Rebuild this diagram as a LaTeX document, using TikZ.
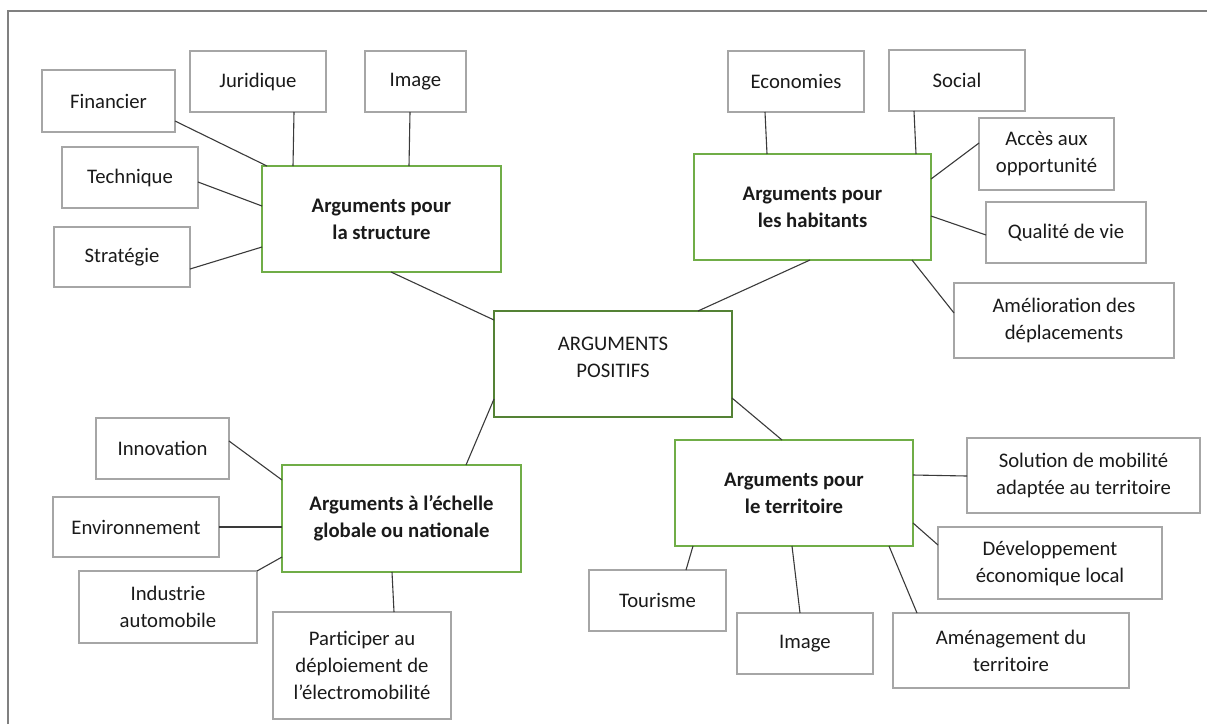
\documentclass[tikz,border=0pt]{standalone}
\usepackage{fontspec}
\setmainfont{Carlito}
\definecolor{boxgray}{HTML}{A6A6A6}
\definecolor{boxgreen}{HTML}{70AD47}
\definecolor{darkgreen}{HTML}{548235}
\definecolor{linegray}{HTML}{3A3A3A}
\definecolor{framegray}{HTML}{808080}
\definecolor{txt}{HTML}{1A1A1A}
\begin{document}
\begin{tikzpicture}[x=1pt,y=-1pt,
  every node/.style={font=\fontsize{20.7}{27}\selectfont, align=center, inner sep=0pt, outer sep=0pt, text=txt, rectangle},
  sub/.style={draw=boxgray, line width=2pt},
  grp/.style={draw=boxgreen, line width=2pt, font=\fontsize{20.7}{27}\selectfont\bfseries},
  hub/.style={draw=darkgreen, line width=2.6pt},
  link/.style={draw=linegray, line width=1.1pt},
  frame/.style={draw=framegray, line width=2pt}]
\useasboundingbox (0,0) rectangle (1207,724);
\draw[frame] (8,724) -- (8,11) -- (1207,11);

% central
\node[hub, minimum width=238pt, minimum height=106pt] (central) at (613,364) {ARGUMENTS\\POSITIFS\\[-13pt]\mbox{}};

% structure group
\node[grp, minimum width=239pt, minimum height=106pt] (struct) at (381.5,219) {Arguments pour\\la structure};
\node[sub, minimum width=133pt, minimum height=62pt] (fin) at (108.5,101) {Financier};
\node[sub, minimum width=136pt, minimum height=61pt] (jur) at (258,81.5) {Juridique};
\node[sub, minimum width=101pt, minimum height=61pt] (img1) at (415.5,81.5) {Image};
\node[sub, minimum width=136pt, minimum height=61pt] (tech) at (130,177.5) {Technique};
\node[sub, minimum width=136pt, minimum height=60pt] (strat) at (122,257) {Stratégie};

% habitants group
\node[grp, minimum width=237pt, minimum height=106pt] (hab) at (812.5,207) {Arguments pour\\les habitants};
\node[sub, minimum width=136pt, minimum height=61pt] (eco) at (796,81.5) {Economies};
\node[sub, minimum width=136pt, minimum height=61pt] (soc) at (957,80.5) {Social};
\node[sub, minimum width=135pt, minimum height=72pt] (acc) at (1046.5,154) {Accès aux\\opportunité};
\node[sub, minimum width=160pt, minimum height=61pt] (qual) at (1066,232.5) {Qualité de vie};
\node[sub, minimum width=220pt, minimum height=75pt] (amel) at (1064,320.5) {Amélioration des\\déplacements};

% global group
\node[grp, minimum width=239pt, minimum height=107pt] (glob) at (401.5,518.5) {Arguments à l’échelle\\globale ou nationale};
\node[sub, minimum width=133pt, minimum height=61pt] (innov) at (162.5,448.5) {Innovation};
\node[sub, minimum width=166pt, minimum height=60pt] (env) at (136,527) {Environnement};
\node[sub, minimum width=178pt, minimum height=72pt] (indus) at (168,607) {Industrie\\automobile};
\node[sub, minimum width=178pt, minimum height=107pt] (part) at (362,665.5) {Participer au\\déploiement de\\l’électromobilité};

% territoire group
\node[grp, minimum width=238pt, minimum height=106pt] (terr) at (794,493) {Arguments pour\\le territoire};
\node[sub, minimum width=233pt, minimum height=75pt] (sol) at (1083.5,475.5) {Solution de mobilité\\adaptée au territoire};
\node[sub, minimum width=224pt, minimum height=72pt] (dev) at (1050,563) {Développement\\économique local};
\node[sub, minimum width=137pt, minimum height=61pt] (tour) at (657.5,600.5) {Tourisme};
\node[sub, minimum width=136pt, minimum height=61pt] (img2) at (805,643.5) {Image};
\node[sub, minimum width=236pt, minimum height=75pt] (amen) at (1011,650.5) {Aménagement du\\territoire};

% connectors
\draw[link] (fin.east |- 0,121) -- (struct.north -| 267,0);
\draw[link] (jur.south -| 294,0) -- (struct.north -| 293,0);
\draw[link] (img1.south -| 410,0) -- (struct.north -| 409,0);
\draw[link] (tech.east |- 0,182) -- (struct.west |- 0,206);
\draw[link] (strat.east |- 0,269) -- (struct.west |- 0,247);
\draw[link] (struct.south -| 391,0) -- (central.west |- 0,320);

\draw[link] (eco.south -| 765,0) -- (hab.north -| 767,0);
\draw[link] (soc.south -| 914,0) -- (hab.north -| 916,0);
\draw[link] (acc.west |- 0,143) -- (hab.east |- 0,179);
\draw[link] (qual.west |- 0,235) -- (hab.east |- 0,216);
\draw[link] (amel.west |- 0,313) -- (hab.south -| 912,0);
\draw[link] (hab.south -| 810,0) -- (central.north -| 698,0);

\draw[link] (innov.east |- 0,441) -- (glob.west |- 0,480);
\draw[link] (env.east |- 0,527) -- (glob.west |- 0,527);
\draw[link] (indus.north east) -- (glob.west |- 0,557);
\draw[link] (part.north -| 394,0) -- (glob.south -| 392,0);
\draw[link] (glob.north -| 466,0) -- (central.west |- 0,399);

\draw[link] (terr.north -| 782,0) -- (central.east |- 0,398);
\draw[link] (sol.west |- 0,476) -- (terr.east |- 0,475);
\draw[link] (dev.west |- 0,545) -- (terr.east |- 0,523);
\draw[link] (amen.north -| 917,0) -- (terr.south -| 889,0);
\draw[link] (tour.north -| 686,0) -- (terr.south -| 693,0);
\draw[link] (img2.north -| 800,0) -- (terr.south -| 792,0);
\end{tikzpicture}
\end{document}
